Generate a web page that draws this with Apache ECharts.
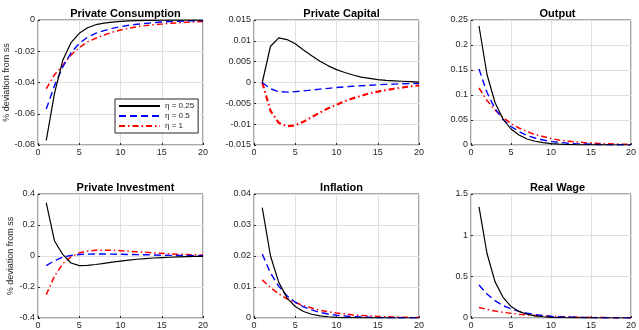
<!DOCTYPE html>
<html>
<head>
<meta charset="utf-8">
<script src="https://cdn.jsdelivr.net/npm/echarts@6/dist/echarts.min.js"></script>
<style>
  html, body { margin: 0; padding: 0; background: #fff; }
  #main { width: 639px; height: 330px; }
</style>
</head>
<body>
<div id="main"></div>
<script>
// periods
var periods = [1,2,3,4,5,6,7,8,9,10,11,12,13,14,15,16,17,18,19,20];
var legendNames = ['η = 0.25', 'η = 0.5', 'η = 1'];
var panelTitles = ['Private Consumption', 'Private Capital', 'Output', 'Private Investment', 'Inflation', 'Real Wage'];

// Private Consumption
var cons025 = [-0.077,-0.047,-0.0258,-0.0145,-0.0085,-0.005,-0.003,-0.002,-0.0013,-0.0009,-0.0006,-0.0004,-0.0003,-0.0002,-0.00015,-0.0001,-0.0001,-0.00005,-0.00005,-0.00003];
var cons05  = [-0.057,-0.042,-0.030,-0.021,-0.015,-0.011,-0.0085,-0.0068,-0.0054,-0.0043,-0.0034,-0.0027,-0.0022,-0.0017,-0.0013,-0.001,-0.0008,-0.0006,-0.0005,-0.0004];
var cons1   = [-0.044,-0.035,-0.029,-0.0224,-0.0177,-0.014,-0.0117,-0.0096,-0.0079,-0.0064,-0.0053,-0.0043,-0.0036,-0.003,-0.0026,-0.0021,-0.0018,-0.0015,-0.0012,-0.001];
// Private Capital
var cap025 = [0,0.0087,0.0107,0.0103,0.0093,0.0078,0.0064,0.0051,0.0040,0.0031,0.0024,0.0018,0.0013,0.001,0.0007,0.0005,0.0004,0.0003,0.0002,0.0001];
var cap05  = [0,-0.0015,-0.0022,-0.0023,-0.0022,-0.0020,-0.0018,-0.0016,-0.0014,-0.0012,-0.00105,-0.0009,-0.00078,-0.00066,-0.00055,-0.00046,-0.00038,-0.0003,-0.00025,-0.0002];
var cap1   = [0,-0.0068,-0.0097,-0.0105,-0.0103,-0.0094,-0.0083,-0.0072,-0.0062,-0.0053,-0.0045,-0.0038,-0.0032,-0.0026,-0.0022,-0.0018,-0.0015,-0.0012,-0.0009,-0.0007];
// Output
var out025 = [0.238,0.141,0.085,0.052,0.032,0.02,0.012,0.0075,0.0046,0.0028,0.0017,0.001,0.0006,0.0004,0.0002,0.0001,0.0001,0.00005,0.00003,0.00002];
var out05  = [0.152,0.105,0.073,0.051,0.037,0.027,0.019,0.014,0.010,0.0072,0.0052,0.0038,0.0027,0.002,0.0014,0.001,0.0007,0.0005,0.0004,0.0003];
var out1   = [0.114,0.089,0.07,0.055,0.043,0.034,0.027,0.021,0.017,0.013,0.010,0.008,0.0064,0.005,0.004,0.003,0.0025,0.002,0.0015,0.0012];
// Private Investment
var inv025 = [0.343,0.097,0.01,-0.045,-0.062,-0.061,-0.055,-0.047,-0.040,-0.033,-0.027,-0.021,-0.017,-0.013,-0.010,-0.008,-0.006,-0.004,-0.003,-0.002];
var inv05  = [-0.062,-0.03,-0.008,0.004,0.01,0.012,0.013,0.013,0.012,0.011,0.010,0.009,0.008,0.007,0.005,0.004,0.0035,0.003,0.0025,0.002];
var inv1   = [-0.25,-0.13,-0.05,-0.005,0.02,0.032,0.037,0.038,0.037,0.034,0.031,0.027,0.024,0.020,0.017,0.014,0.012,0.010,0.008,0.006];
// Inflation
var infl025 = [0.0356,0.020,0.0115,0.0065,0.0037,0.0021,0.0012,0.0007,0.0004,0.0002,0.0001,0.0001,0.00005,0.00003,0.00002,0.00001,0,0,0,0];
var infl05  = [0.0206,0.0145,0.0102,0.0072,0.0051,0.0036,0.0026,0.0018,0.0013,0.0009,0.00065,0.00046,0.00033,0.00023,0.00016,0.00012,0.00008,0.00006,0.00004,0.00003];
var infl1   = [0.0123,0.0098,0.0078,0.0062,0.005,0.004,0.0032,0.0025,0.002,0.0016,0.0013,0.001,0.0008,0.00065,0.0005,0.0004,0.00033,0.00026,0.0002,0.00017];
// Real Wage
var wage025 = [1.345,0.78,0.44,0.25,0.14,0.08,0.045,0.026,0.015,0.008,0.005,0.003,0.0017,0.001,0.0006,0.0003,0.0002,0.0001,0.0001,0.00005];
var wage05  = [0.40,0.29,0.21,0.15,0.11,0.08,0.058,0.042,0.03,0.022,0.016,0.012,0.0085,0.006,0.0045,0.0033,0.0024,0.0017,0.0012,0.0009];
var wage1   = [0.128,0.104,0.085,0.069,0.056,0.046,0.037,0.030,0.025,0.02,0.016,0.013,0.011,0.009,0.007,0.0057,0.0046,0.0037,0.003,0.0024];

var panelData = [
  [cons025, cons05, cons1],
  [cap025, cap05, cap1],
  [out025, out05, out1],
  [inv025, inv05, inv1],
  [infl025, infl05, infl1],
  [wage025, wage05, wage1]
];
// y axis ranges per panel [min, max, interval]
var yRanges = [
  [-0.08, 0, 0.02],
  [-0.015, 0.015, 0.005],
  [0, 0.25, 0.05],
  [-0.4, 0.4, 0.2],
  [0, 0.04, 0.01],
  [0, 1.5, 0.5]
];

var chart = echarts.init(document.getElementById('main'));

var grids = [
  {left: 38, top: 20, width: 165, height: 125},
  {left: 254, top: 20, width: 165, height: 125},
  {left: 471, top: 20, width: 163, height: 125},
  {left: 38, top: 194, width: 165, height: 124},
  {left: 254, top: 194, width: 165, height: 124},
  {left: 471, top: 194, width: 163, height: 124}
];

var font = 'Liberation Sans, Arial, sans-serif';
var axisText = {color: '#262626', fontSize: 9, fontFamily: font};
var fmt = function (v) { return String(parseFloat(v.toFixed(4))); };

var styles = [
  {color: '#000000', width: 1.2, type: 'solid'},
  {color: '#0000ff', width: 1.4, type: [7, 4]},
  {color: '#ff0000', width: 1.5, type: [6, 3, 1.5, 3]}
];

var option = {
  animation: false,
  title: [],
  grid: [],
  xAxis: [],
  yAxis: [],
  series: [],
  legend: {
    left: 115, top: 99, width: 81,
    orient: 'vertical',
    padding: [3, 4, 3, 3],
    itemGap: 2,
    itemWidth: 41, itemHeight: 10,
    borderColor: '#262626', borderWidth: 1,
    backgroundColor: '#fff',
    itemStyle: {opacity: 0},
    textStyle: {color: '#262626', fontSize: 8, fontFamily: font},
    data: legendNames
  }
};

grids.forEach(function (g, i) {
  option.grid.push({
    left: g.left, top: g.top, width: g.width, height: g.height,
    show: true, borderColor: '#262626', borderWidth: 0.8, backgroundColor: 'transparent'
  });
  option.title.push({
    text: panelTitles[i],
    left: g.left + g.width / 2,
    top: g.top - 17,
    textAlign: 'center',
    textStyle: {fontSize: 11, fontWeight: 'bold', color: '#000', fontFamily: font}
  });
  option.xAxis.push({
    type: 'value', gridIndex: i, min: 0, max: 20, interval: 5,
    axisLine: {show: false, onZero: false},
    axisTick: {show: true, inside: true, length: 2, lineStyle: {color: '#262626'}},
    axisLabel: Object.assign({margin: 3}, axisText),
    splitLine: {show: true, lineStyle: {color: '#dfdfdf', width: 1}}
  });
  var r = yRanges[i];
  option.yAxis.push({
    type: 'value', gridIndex: i, min: r[0], max: r[1], interval: r[2],
    name: (i === 0 || i === 3) ? '% deviation from ss' : '',
    nameLocation: 'middle', nameGap: 23, nameRotate: 90,
    nameTextStyle: {color: '#262626', fontSize: 9, fontFamily: font},
    axisLine: {show: false, onZero: false},
    axisTick: {show: true, inside: true, length: 2, lineStyle: {color: '#262626'}},
    axisLabel: Object.assign({margin: 3, formatter: fmt}, axisText),
    splitLine: {show: true, lineStyle: {color: '#dfdfdf', width: 1}}
  });
  panelData[i].forEach(function (vals, k) {
    var st = styles[k];
    var w = st.width;
    if (i === 1 && k === 2) w = 2.2;
    option.series.push({
      name: legendNames[k],
      type: 'line',
      xAxisIndex: i, yAxisIndex: i,
      showSymbol: false, symbol: 'none',
      silent: true,
      z: 3 - k,
      data: periods.map(function (p, j) { return [p, vals[j]]; }),
      itemStyle: {color: st.color},
      lineStyle: {color: st.color, width: w, type: st.type}
    });
  });
});

chart.setOption(option);
</script>
</body>
</html>
